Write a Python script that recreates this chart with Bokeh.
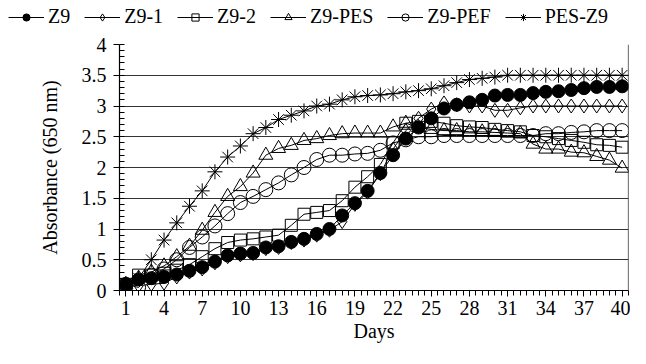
from bokeh.plotting import figure
from bokeh.layouts import column, row
from bokeh.models import FixedTicker, CustomJSTickFormatter, Span, Legend, LegendItem, ColumnDataSource
from bokeh.embed import file_html
from bokeh.resources import INLINE

days = list(range(1, 41))
x_tick_labels = [1, 4, 7, 10, 13, 16, 19, 22, 25, 28, 31, 34, 37, 40]
y_ticks = [0, 0.5, 1, 1.5, 2, 2.5, 3, 3.5, 4]

z9 = [0.1, 0.18, 0.2, 0.22, 0.26, 0.32, 0.38, 0.47, 0.57, 0.6,
      0.61, 0.7, 0.72, 0.79, 0.84, 0.92, 1.0, 1.22, 1.42, 1.62,
      1.91, 2.2, 2.47, 2.65, 2.8, 2.96, 3.02, 3.06, 3.1, 3.17,
      3.18, 3.18, 3.21, 3.23, 3.24, 3.26, 3.29, 3.31, 3.31, 3.32]
z9_1 = [0.1, 0.08, 0.1, 0.12, 0.22, 0.3, 0.35, 0.45, 0.55, 0.58,
        0.6, 0.68, 0.7, 0.78, 0.82, 0.9, 0.98, 1.12, 1.4, 1.6,
        1.9, 2.3, 2.6, 2.8, 2.95, 3.05, 3.02, 3.0, 3.0, 2.93,
        2.93, 2.97, 3.0, 3.0, 3.0, 3.0, 3.0, 3.0, 3.0, 3.0]
z9_2 = [0.1, 0.25, 0.25, 0.28, 0.33, 0.42, 0.55, 0.68, 0.78, 0.82,
        0.84, 0.87, 0.9, 1.06, 1.24, 1.27, 1.3, 1.46, 1.68, 1.85,
        2.05, 2.4, 2.72, 2.75, 2.75, 2.72, 2.68, 2.66, 2.65, 2.62,
        2.6, 2.58, 2.52, 2.5, 2.47, 2.44, 2.41, 2.37, 2.36, 2.33]
z9_pes = [0.1, 0.2, 0.3, 0.4, 0.55, 0.72, 0.98, 1.27, 1.53, 1.69,
          1.91, 2.2, 2.31, 2.36, 2.44, 2.47, 2.52, 2.55, 2.56, 2.56,
          2.56, 2.66, 2.72, 2.65, 2.62, 2.6, 2.6, 2.58, 2.58, 2.57,
          2.56, 2.55, 2.38, 2.3, 2.3, 2.25, 2.24, 2.18, 2.12, 1.99]
z9_pef = [0.1, 0.05, 0.25, 0.35, 0.5, 0.7, 0.87, 1.05, 1.25, 1.43,
          1.53, 1.64, 1.75, 1.88, 2.0, 2.13, 2.2, 2.2, 2.22, 2.23,
          2.28, 2.4, 2.45, 2.5, 2.5, 2.52, 2.52, 2.52, 2.52, 2.52,
          2.52, 2.52, 2.52, 2.55, 2.55, 2.57, 2.58, 2.6, 2.6, 2.6]
pes_z9 = [0.1, 0.2, 0.5, 0.82, 1.1, 1.37, 1.62, 1.93, 2.17, 2.35,
          2.55, 2.65, 2.78, 2.85, 2.92, 3.0, 3.03, 3.1, 3.15, 3.17,
          3.18, 3.2, 3.23, 3.25, 3.28, 3.33, 3.38, 3.43, 3.45, 3.47,
          3.5, 3.5, 3.5, 3.5, 3.5, 3.5, 3.5, 3.5, 3.5, 3.5]

series_names = ["Z9", "Z9-1", "Z9-2", "Z9-PES", "Z9-PEF", "PES-Z9"]
series_values = [z9, z9_1, z9_2, z9_pes, z9_pef, pes_z9]
markers = ["circle", "diamond", "square", "triangle", "circle", "asterisk"]
sizes = [13, 14, 12, 14, 14, 15]
filled = [True, False, False, False, False, False]

FONT = "Times"

# ---------- legend strip ----------
lf = figure(width=630, height=32, output_backend="svg", toolbar_location=None,
            x_range=(0, 1), y_range=(0, 1), min_border=0,
            x_axis_location=None, y_axis_location=None)
lf.outline_line_color = None
lf.grid.visible = False

items = []
for name, vals, mk, sz, fl in zip(series_names, series_values, markers, sizes, filled):
    # legend key sources: the series' first point, placed out of the strip's view
    key_src = ColumnDataSource(dict(x=[-10], y=[vals[0] - 10]))
    lr = lf.line("x", "y", source=key_src, line_color="black", line_width=1)
    sr = lf.scatter("x", "y", source=key_src, marker=mk, size=sz, line_color="black", line_width=1,
                    fill_color="black" if fl else "white", fill_alpha=1.0 if fl else 0.0)
    items.append(LegendItem(label=name, renderers=[lr, sr]))

legend = Legend(items=items, orientation="horizontal", location=(8, 4),
                label_text_font=FONT, label_text_font_size="20px", label_text_color="black",
                glyph_width=36, glyph_height=18, label_standoff=4, spacing=14,
                padding=0, margin=0, border_line_color=None, background_fill_alpha=0)
lf.add_layout(legend, "center")

# ---------- main chart ----------
p = figure(width=630, height=316, output_backend="svg", toolbar_location=None,
           x_range=(0.5, 40.5), y_range=(0, 4),
           min_border_left=119, min_border_right=2, min_border_top=12, min_border_bottom=58)
p.outline_line_color = None

for name, vals, mk, sz, fl in zip(series_names, series_values, markers, sizes, filled):
    src = ColumnDataSource(dict(x=days, y=vals))
    p.line("x", "y", source=src, line_color="black", line_width=1)
    p.scatter("x", "y", source=src, marker=mk, size=sz, line_color="black", line_width=1,
              fill_color="black" if fl else "white", fill_alpha=1.0 if fl else 0.0)

# right border line
p.add_layout(Span(location=40.5, dimension="height", line_color="black", line_width=1.2))

# x axis
p.xaxis.ticker = FixedTicker(ticks=x_tick_labels, minor_ticks=[0.5 + 0.5 * i for i in range(81)])
p.xaxis.axis_label = "Days"
p.xaxis.major_tick_out = 6
p.xaxis.major_tick_in = 0
p.xaxis.minor_tick_out = 5
p.xaxis.minor_tick_in = 0
p.xaxis.major_label_standoff = 4
p.xaxis.axis_label_standoff = 2

# y axis
p.yaxis.ticker = FixedTicker(ticks=y_ticks, minor_ticks=[round(0.1 * i, 1) for i in range(41)])
p.yaxis.formatter = CustomJSTickFormatter(code="return String(tick)")
p.yaxis.axis_label = "Absorbance (650 nm)"
p.yaxis.major_tick_out = 6
p.yaxis.major_tick_in = 0
p.yaxis.minor_tick_out = 0
p.yaxis.minor_tick_in = 5
p.yaxis.major_label_standoff = 7
p.yaxis.axis_label_standoff = 18

for ax in (p.xaxis, p.yaxis):
    ax.axis_line_color = "black"
    ax.axis_line_width = 1.2
    ax.major_tick_line_color = "black"
    ax.minor_tick_line_color = "black"
    ax.major_label_text_font = FONT
    ax.major_label_text_font_size = "20px"
    ax.major_label_text_color = "black"
    ax.axis_label_text_font = FONT
    ax.axis_label_text_font_size = "20px"
    ax.axis_label_text_font_style = "normal"
    ax.axis_label_text_color = "black"

p.xgrid.grid_line_color = None
p.ygrid.ticker = FixedTicker(ticks=[0.5, 1, 1.5, 2, 2.5, 3, 3.5])
p.ygrid.grid_line_color = "#333333"
p.ygrid.grid_line_width = 1.2

layout = column(row(lf), p, spacing=0)
open("out.html", "w").write(file_html(layout, INLINE))
